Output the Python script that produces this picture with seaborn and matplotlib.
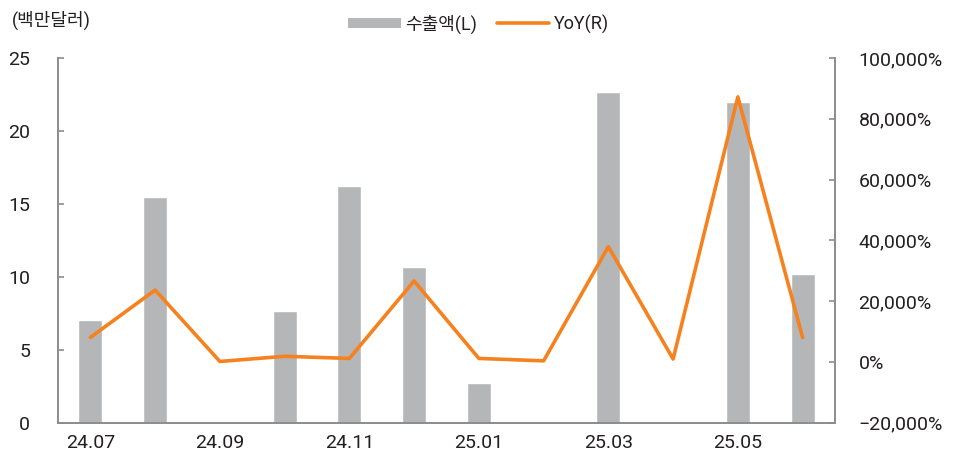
import numpy as np
import pandas as pd
import matplotlib
matplotlib.use("Agg")
import matplotlib.pyplot as plt
import matplotlib.ticker as mticker
from matplotlib.patches import Patch
from matplotlib.lines import Line2D
import seaborn as sns

# data
months = ["24.07", "24.08", "24.09", "24.10", "24.11", "24.12",
          "25.01", "25.02", "25.03", "25.04", "25.05", "25.06"]
export_musd = [7.02, 15.46, 0.0, 7.67, 16.2, 10.67,
               2.71, 0.0, 22.67, 0.0, 21.95, 10.16]
yoy_pct = [8000, 23600, 100, 1800, 1100, 26600,
           1100, 300, 37900, 900, 87200, 8000]

bar_color = "#b5b6b8"
line_color = "#f5821f"
axis_color = "#8c8c8c"

sns.set_style("white")
plt.rcParams["font.family"] = ["Roboto", "Noto Sans CJK KR", "DejaVu Sans"]
plt.rcParams["text.color"] = "#231f20"
plt.rcParams["xtick.color"] = "#231f20"
plt.rcParams["ytick.color"] = "#231f20"

df = pd.DataFrame({"month": months, "export": export_musd, "yoy": yoy_pct})
df["pos"] = np.arange(len(df))

fig = plt.figure(figsize=(9.57, 4.59), dpi=100)
ax = fig.add_axes([0.0606, 0.0795, 0.8119, 0.7941])

sns.barplot(data=df, x="month", y="export", color=bar_color,
            width=0.37, saturation=1, ax=ax)

ax2 = ax.twinx()
sns.lineplot(data=df, x="pos", y="yoy", color=line_color,
             linewidth=2.6, ax=ax2)

# left axis
ax.set_xlim(-0.5, len(months) - 0.5)
ax.set_ylim(0, 25)
ax.set_yticks(np.arange(0, 26, 5))
ax.set_xticks(df["pos"])
ax.set_xticklabels([m if i % 2 == 0 else "" for i, m in enumerate(months)])
ax.set_xlabel("")
ax.set_ylabel("")

# right axis
ax2.set_ylim(-20000, 100000)
ax2.set_yticks(np.arange(-20000, 100001, 20000))
ax2.yaxis.set_major_formatter(
    mticker.FuncFormatter(lambda v, p: f"{v:,.0f}%".replace("-", "\u2212")))
ax2.set_ylabel("")
ax2.set_xlabel("")

for a in (ax, ax2):
    a.spines["top"].set_visible(False)
    for s in ("left", "right", "bottom"):
        a.spines[s].set_color(axis_color)
        a.spines[s].set_linewidth(1.2)

ax.tick_params(axis="y", direction="in", length=4, width=1.2,
               color=axis_color, labelsize=14, pad=20, left=True)
ax.tick_params(axis="x", length=0, labelsize=14, pad=8)
ax2.tick_params(axis="y", direction="in", length=4, width=1.2,
                color=axis_color, labelsize=14, pad=17, right=True)

fig.text(0.012, 0.955, "(백만달러)", fontsize=13, va="center", ha="left")

handles = [
    Patch(facecolor=bar_color, edgecolor="none", label="수출액(L)"),
    Line2D([0], [0], color=line_color, linewidth=2.6, label="YoY(R)"),
]
fig.legend(handles=handles, loc="center", bbox_to_anchor=(0.5, 0.948),
           ncol=2, frameon=False, fontsize=13, handlelength=2.9,
           handleheight=0.5, columnspacing=1.1, handletextpad=0.25)

fig.savefig("out.png", dpi=100)
plt.close(fig)
